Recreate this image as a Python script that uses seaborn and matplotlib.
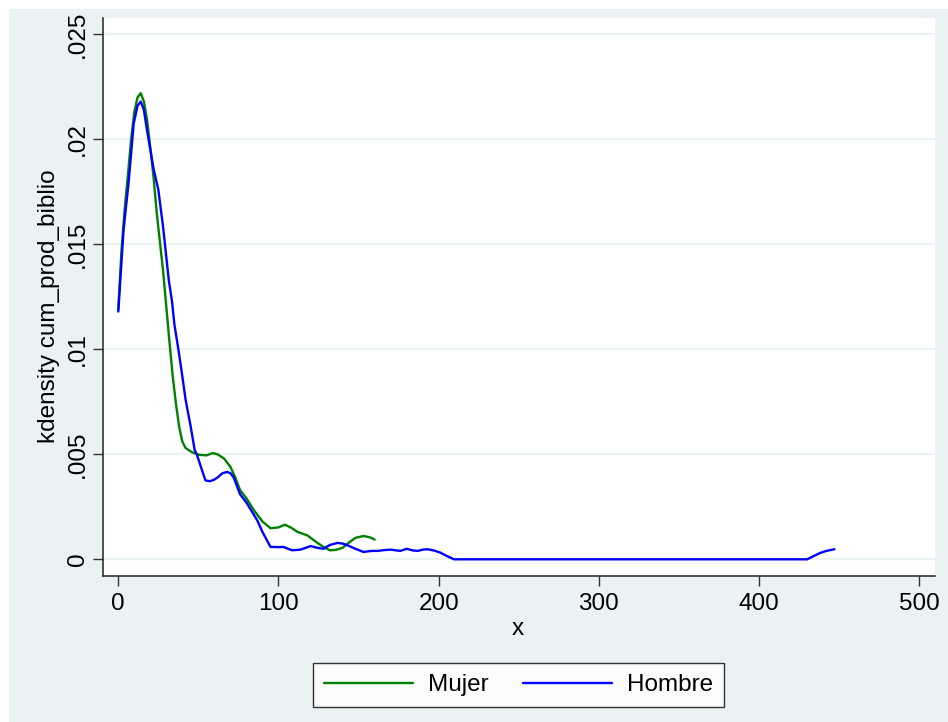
import pandas as pd
import matplotlib.pyplot as plt
import seaborn as sns
from matplotlib.patches import Rectangle

# kdensity values
mujer_x = [0, 2, 4, 6, 8, 10, 12, 14, 16, 18, 20, 22, 24, 26, 28, 30, 32, 34, 36, 38,
           40, 42, 44, 46, 50, 55, 59, 62, 66, 70, 73, 76, 80, 85, 90, 95, 100, 104,
           108, 112, 118, 124, 128, 132, 136, 140, 144, 148, 153, 157, 160]
mujer_y = [0.0119, 0.0147, 0.0167, 0.0183, 0.0200, 0.0213, 0.0220, 0.0222, 0.0218,
           0.0209, 0.0196, 0.0182, 0.0165, 0.0151, 0.0137, 0.0120, 0.0103, 0.0087,
           0.0074, 0.0063, 0.0056, 0.0053, 0.0052, 0.0051, 0.00498, 0.00495, 0.00506,
           0.0050, 0.0048, 0.0044, 0.0039, 0.0033, 0.0029, 0.0023, 0.0018, 0.00148,
           0.00152, 0.00165, 0.0015, 0.0013, 0.00114, 0.0008, 0.00059, 0.00043,
           0.00045, 0.00055, 0.0008, 0.00102, 0.00111, 0.00105, 0.00094]

hombre_x = [0, 1.25, 3.3, 6.5, 9.6, 12, 14, 16, 18, 20, 22, 25, 28, 31.5, 33.5, 35,
            37.7, 40, 42, 45, 47.7, 49, 52, 54.4, 57, 59.6, 62, 65, 68, 70, 72, 76,
            80, 86.7, 90, 95, 100, 103, 108.5, 113.75, 120, 124, 128, 132, 136.7, 140,
            143, 148, 153, 158, 162, 166, 170, 173, 176, 180, 184, 187, 190, 193, 197,
            201, 205, 209.6, 300, 400, 430, 434, 438, 442, 447]
hombre_y = [0.0118, 0.0133, 0.0157, 0.0180, 0.02075, 0.0216, 0.0218, 0.0214, 0.0204,
            0.0195, 0.0186, 0.0176, 0.0158, 0.0133, 0.0123, 0.0112, 0.0099, 0.0087,
            0.0076, 0.0064, 0.0052, 0.0050, 0.0043, 0.00376, 0.00372, 0.00378, 0.0039,
            0.0041, 0.00416, 0.0041, 0.0039, 0.0031, 0.0027, 0.00186, 0.0013, 0.00059,
            0.00058, 0.00059, 0.00043, 0.00046, 0.00063, 0.00055, 0.0005, 0.00068,
            0.00078, 0.00075, 0.00067, 0.0005, 0.00035, 0.0004, 0.0004, 0.00044,
            0.00046, 0.00043, 0.0004, 0.0005, 0.00042, 0.0004, 0.00046, 0.00048,
            0.00042, 0.00032, 0.00016, 0.0, 0.0, 0.0, 0.0, 0.00015, 0.0003, 0.0004,
            0.00048]

x_ticks = [0, 100, 200, 300, 400, 500]
y_ticks = [0, 0.005, 0.01, 0.015, 0.02, 0.025]
y_tick_labels = ['0', '.005', '.01', '.015', '.02', '.025']

df = pd.concat([
    pd.DataFrame({'x': mujer_x, 'y': mujer_y, 'grupo': 'Mujer'}),
    pd.DataFrame({'x': hombre_x, 'y': hombre_y, 'grupo': 'Hombre'}),
])

bg = '#EAF2F3'
fs = 17.5
sns.set_style('white')
plt.rcParams['font.family'] = ['Liberation Sans', 'DejaVu Sans']
plt.rcParams['text.color'] = 'black'
plt.rcParams['axes.labelcolor'] = 'black'
plt.rcParams['xtick.color'] = 'black'
plt.rcParams['ytick.color'] = 'black'

fig = plt.figure(figsize=(9.48, 7.22), dpi=100, facecolor='white')
fig.patches.append(Rectangle((9 / 948, 0), 1, 1 - 9 / 722, transform=fig.transFigure,
                             facecolor=bg, edgecolor='none', zorder=-10))
ax = fig.add_axes([103 / 948, 1 - 576 / 722, 832 / 948, 558 / 722])
ax.set_facecolor('white')

sns.lineplot(data=df, x='x', y='y', hue='grupo', hue_order=['Mujer', 'Hombre'],
             palette={'Mujer': '#008000', 'Hombre': '#0000FF'}, estimator=None,
             linewidth=1.7, ax=ax, legend=False)

ax.set_xlim(-9.55, 509.8)
ax.set_ylim(-0.000795, 0.02578)
ax.set_xticks(x_ticks)
ax.set_xticklabels([str(t) for t in x_ticks])
ax.set_yticks(y_ticks)
ax.set_yticklabels(y_tick_labels, rotation=90, va='center')
ax.tick_params(axis='both', which='major', direction='out', length=7, width=1,
               color='#333333', labelsize=fs, left=True, bottom=True)
ax.tick_params(axis='x', pad=5.5)
ax.tick_params(axis='y', pad=3.3)
ax.grid(axis='y', color=bg, linewidth=1.6)
ax.set_axisbelow(True)

for side in ['top', 'right']:
    ax.spines[side].set_visible(False)
for side in ['left', 'bottom']:
    ax.spines[side].set_color('#222222')
    ax.spines[side].set_linewidth(1.1)

ax.set_xlabel('x', fontsize=fs)
ax.set_ylabel('kdensity cum_prod_biblio', fontsize=fs)
ax.xaxis.set_label_coords(0.499, -0.0746)
ax.yaxis.set_label_coords(-0.0517, 0.484)

handles = [plt.Line2D([], [], color='#008000', linewidth=1.7),
           plt.Line2D([], [], color='#0000FF', linewidth=1.7)]
leg = fig.legend(handles, ['Mujer', 'Hombre'], loc='center', ncol=2,
                 bbox_to_anchor=(518.5 / 948, 1 - 685 / 722), fontsize=fs,
                 frameon=True, fancybox=False, edgecolor='black',
                 handlelength=3.66, handletextpad=0.62, columnspacing=1.44,
                 borderpad=0.45, borderaxespad=0)
leg.get_frame().set_linewidth(1.0)
leg.get_frame().set_facecolor('white')

fig.savefig('out.png', dpi=100, facecolor=fig.get_facecolor())
